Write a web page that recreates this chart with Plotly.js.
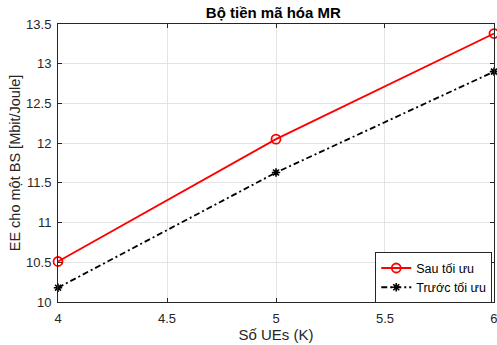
<!DOCTYPE html>
<html>
<head>
<meta charset="utf-8">
<script src="https://cdn.plot.ly/plotly-3.0.1.min.js"></script>
<style>html,body{margin:0;padding:0;background:#fff;}#chart{width:497px;height:345px;}</style>
</head>
<body>
<div id="chart"></div>
<script>
const K = [4, 5, 6];
const eeAfter = [10.51, 12.05, 13.38];
const eeBefore = [10.18, 11.63, 12.90];
const seriesNames = ["Sau tối ưu", "Trước tối ưu"];
const titleText = "Bộ tiền mã hóa MR";
const xTitle = "Số UEs (K)";
const yTitle = "EE cho một BS [Mbit/Joule]";
const xTicks = [4, 4.5, 5, 5.5, 6];
const yTicks = [10, 10.5, 11, 11.5, 12, 12.5, 13, 13.5];

const font = "Liberation Sans, Arial, Helvetica, sans-serif";
const traces = [
  {x: K, y: eeAfter, name: seriesNames[0], type: "scatter", mode: "lines+markers",
   line: {color: "#ff0000", width: 1.8},
   marker: {symbol: "circle-open", size: 9, color: "#ff0000", line: {width: 1.8, color: "#ff0000"}},
   cliponaxis: false},
  {x: K, y: eeBefore, name: seriesNames[1], type: "scatter", mode: "lines+markers",
   line: {color: "#000000", width: 1.8, dash: "6px,3px,2px,3px"},
   marker: {symbol: "asterisk-open", size: 7, color: "#000000", line: {width: 1.6, color: "#000000"}},
   cliponaxis: false}
];
const axisCommon = {
  showline: true, linecolor: "#262626", linewidth: 1, mirror: "ticks",
  ticks: "inside", ticklen: 4, tickcolor: "#262626",
  showgrid: true, gridcolor: "#e3e3e3", gridwidth: 1, zeroline: false,
  ticklabeloverflow: "allow",
  tickfont: {family: font, size: 13, color: "#262626"}
};
const layout = {
  width: 497, height: 345,
  margin: {l: 58, r: 3, t: 24, b: 43},
  paper_bgcolor: "#ffffff", plot_bgcolor: "#ffffff",
  title: {text: "<b>" + titleText + "</b>", font: {family: font, size: 15, color: "#000"},
          x: 0.55, xanchor: "center", y: 0.962, yanchor: "middle"},
  xaxis: Object.assign({}, axisCommon, {range: [3.9999, 6.0001], tickvals: xTicks, ticktext: xTicks.map(String),
     ticklabelstandoff: 4,
     title: {text: xTitle, font: {family: font, size: 15, color: "#262626"}, standoff: 4}}),
  yaxis: Object.assign({}, axisCommon, {range: [10, 13.5], tickvals: yTicks, ticktext: yTicks.map(String),
     ticklabelstandoff: 3,
     title: {text: yTitle, font: {family: font, size: 14.5, color: "#262626"}, standoff: 2}}),
  showlegend: true,
  legend: {x: 0.996, xanchor: "right", y: -0.005, yanchor: "bottom",
     bgcolor: "#ffffff", bordercolor: "#262626", borderwidth: 1,
     font: {family: font, size: 12.5, color: "#000"}, tracegroupgap: 0, itemwidth: 30,
     entrywidth: 125, entrywidthmode: "pixels"}
};
Plotly.newPlot("chart", traces, layout, {displayModeBar: false, staticPlot: true});
</script>
</body>
</html>
